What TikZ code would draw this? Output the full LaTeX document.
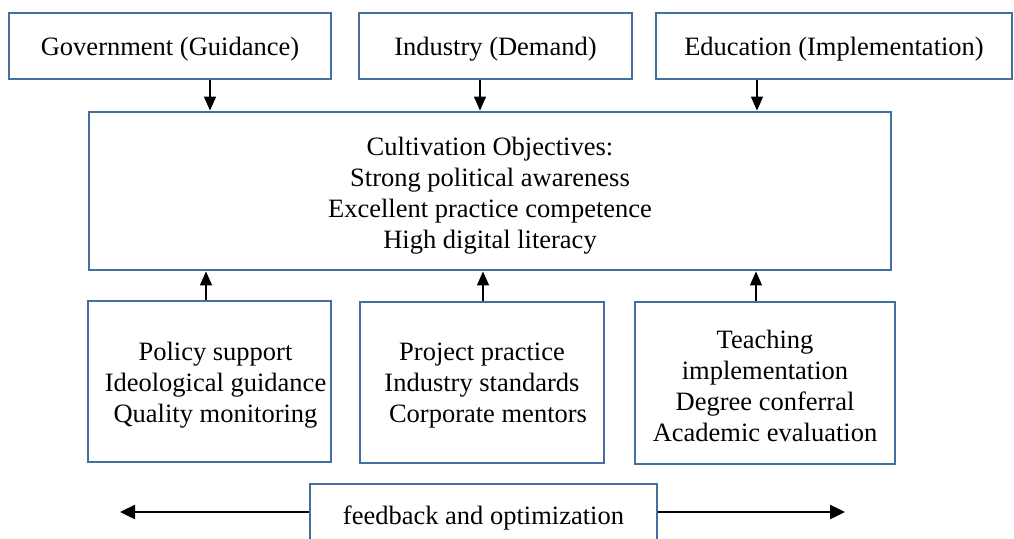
\documentclass[tikz,border=0pt]{standalone}
\usepackage{fontspec}
\setmainfont{Liberation Serif}
\usepackage{xcolor}
\usepackage{tikz}
\usetikzlibrary{arrows.meta}
\definecolor{boxblue}{HTML}{43709F}
% first line as tall as the font's ascender (plus extra room on top)
\newcommand{\linestrut}[1][0pt]{\rule[-0.216em]{0pt}{\dimexpr1.107em+#1\relax}}
\tikzset{
  box/.style={draw=boxblue, line width=2.8pt, fill=white, inner sep=0pt,
    align=center, font=\fontsize{26.5}{31}\selectfont},
  link/.style={-{Triangle[length=14pt,width=12pt]}, line width=1.4pt},
  loop/.style={-{Triangle[length=15pt,width=14pt]}, line width=2.4pt}
}

\begin{document}
\begin{tikzpicture}[x=1pt,y=-1pt]
    \useasboundingbox (0,0) rectangle (1014,538);
    % three parties
    \node[box, minimum width=322pt, minimum height=66pt] (G) at (170,46) {\linestrut[2pt]Government (Guidance)};
    \node[box, minimum width=273pt, minimum height=66pt] (I) at (495.5,46) {\linestrut[2pt]Industry (Demand)};
    \node[box, minimum width=356pt, minimum height=66pt] (E) at (834,46) {\linestrut[2pt]Education (Implementation)};
    % objectives
    \node[box, minimum width=802pt, minimum height=158pt] (O) at (490,191)
      {\linestrut[4pt]Cultivation Objectives:\\ Strong political awareness\\ Excellent practice competence\\ High digital literacy};
    % roles
    \node[box, minimum width=243pt, minimum height=161pt] (G1) at (209.5,381.5)
      {\linestrut[2pt]\hspace*{12pt}Policy support\\ \hspace*{12pt}Ideological guidance\\ \hspace*{12pt}Quality monitoring};
    \node[box, minimum width=244pt, minimum height=161pt] (I1) at (482,382.5)
      {\linestrut Project practice\\ Industry standards\\ \hspace*{12pt}Corporate mentors};
    \node[box, minimum width=260pt, minimum height=162pt] (E1) at (765,383)
      {\linestrut Teaching\\ implementation\\ Degree conferral\\ Academic evaluation};
    \node[box, minimum width=347pt, minimum height=56pt] (F) at (483.5,512) {\linestrut[8pt]feedback and optimization};
    \coordinate (FL) at (120,512);
    \coordinate (FR) at (845,512);
    \path [link] (G.south -| 210,0) edge (O.north -| 210,0);
    \path [link] (I.south -| 480,0) edge (O.north -| 480,0);
    \path [link] (E.south -| 757,0) edge (O.north -| 757,0);
    \path [link] (G1.north -| 206,0) edge (O.south -| 206,0);
    \path [link] (I1.north -| 483,0) edge (O.south -| 483,0);
    \path [link] (E1.north -| 756,0) edge (O.south -| 756,0);
    \path [loop] (F.west) edge (FL);
    \path [loop] (F.east) edge (FR);
  \end{tikzpicture}
\end{document}
